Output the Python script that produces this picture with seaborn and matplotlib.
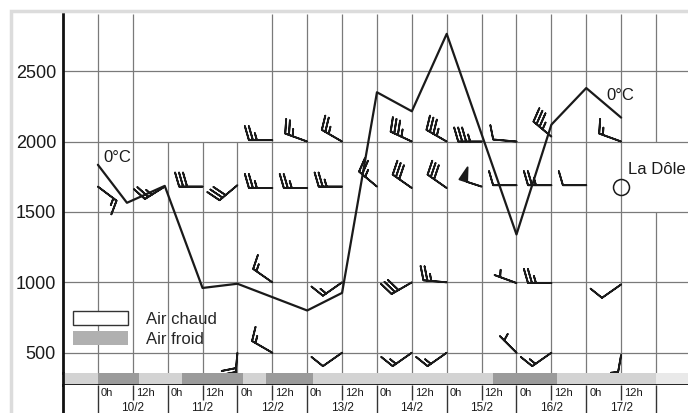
import numpy as np
import matplotlib
matplotlib.use('Agg')
import matplotlib.pyplot as plt
import matplotlib.patches as mpatches
import seaborn as sns

# 0°C isotherm height (m), hours after 10/2 0h
iso_hours = [0, 10, 23, 36, 48, 72, 84, 96, 108, 120, 144, 156, 168, 180]
iso_alt = [1835, 1565, 1685, 960, 990, 800, 925, 2350, 2215, 2765, 1340, 2120, 2380, 2170]

# wind barbs: hour, altitude (m), direction (deg, from), speed (kt)
wind_hours = [60, 72, 84, 108, 120, 132, 144, 156, 180,
              0, 23, 36, 48, 60, 72, 84, 96, 108, 120, 132, 144, 156, 168,
              60, 84, 108, 120, 144, 156, 180,
              48, 60, 84, 108, 120, 144, 156, 180]
wind_alt = [2010, 2000, 2000, 2000, 2000, 2000, 2000, 2035, 2000,
            1680, 1680, 1680, 1690, 1670, 1670, 1680, 1680, 1670, 1670, 1680, 1690, 1690, 1690,
            1000, 1000, 1000, 1000, 995, 995, 985,
            500, 500, 500, 500, 500, 500, 500, 485]
wind_dir = [270, 290, 300, 295, 300, 270, 275, 310, 290,
            127, 238, 270, 230, 270, 270, 270, 310, 305, 305, 288, 270, 270, 270,
            305, 235, 240, 275, 290, 270, 235,
            185, 300, 235, 235, 235, 315, 235, 190]
wind_kt = [25, 25, 25, 35, 35, 35, 10, 35, 15,
           15, 25, 30, 30, 25, 25, 25, 25, 30, 30, 50, 10, 25, 10,
           15, 15, 30, 25, 5, 25, 10,
           30, 15, 10, 15, 15, 5, 15, 5]

# air masses along the time axis (hours)
cold_start = [0, 29, 58, 136]
cold_end = [14, 50, 74, 158]
record_end = 192

days = ['10/2', '11/2', '12/2', '13/2', '14/2', '15/2', '16/2', '17/2']
y_ticks = [500, 1000, 1500, 2000, 2500]

station_hour = 180
station_alt = 1677

XLIM = (-12, 203)
YLIM = (356, 2906)

sns.set_theme(style='white')
plt.rcParams['font.family'] = ['Liberation Sans', 'DejaVu Sans']

W, H = 688, 413
fig = plt.figure(figsize=(W / 100, H / 100), dpi=100)


def box(x0, y0, x1, y1):
    return [x0 / W, 1 - y1 / H, (x1 - x0) / W, (y1 - y0) / H]


ax = fig.add_axes(box(63, 14, 688, 373))
strip = fig.add_axes(box(63, 373, 688, 385))
lab = fig.add_axes(box(63, 385, 688, 413))

# scanned page border
fig.patches.append(mpatches.Rectangle((11 / W, -0.1), 1.2, 1 - 11 / H + 0.1, transform=fig.transFigure,
                                      fill=False, edgecolor='#dcdcdc', lw=2.5, zorder=0))

# grid
gc = '#7a7a7a'
for h in range(0, record_end + 1, 12):
    if h in (24, 36, 48):
        ax.vlines(h, YLIM[0], 2000, color=gc, lw=0.9, zorder=1)
    elif h == record_end:
        ax.vlines(h, YLIM[0], 1500, color=gc, lw=0.9, zorder=1)
        ax.vlines(h, 2000, YLIM[1], color=gc, lw=0.9, zorder=1)
    else:
        ax.vlines(h, YLIM[0], YLIM[1], color=gc, lw=0.9, zorder=1)
ax.hlines(y_ticks, XLIM[0], XLIM[1], color=gc, lw=0.9, zorder=1)

# 0°C isotherm
sns.lineplot(x=iso_hours, y=iso_alt, ax=ax, color='#1a1a1a', lw=1.6, sort=False,
             estimator=None, zorder=3)

# wind barbs
d = np.deg2rad(wind_dir)
spd = np.array(wind_kt, dtype=float)
u = -spd * np.sin(d)
v = -spd * np.cos(d)
ax.barbs(wind_hours, wind_alt, u, v, length=5.8, pivot='tip', color='#1a1a1a',
         linewidth=1.3, sizes=dict(spacing=0.17, height=0.6, width=0.35, emptybarb=0),
         zorder=4)

# labels on the plot
ax.text(2, 1890, '0°C', fontsize=12, ha='left', va='center', color='#1a1a1a')
ax.text(174.8, 2324, '0°C', fontsize=12, ha='left', va='center', color='#1a1a1a')
ax.plot(station_hour, station_alt, 'o', ms=11.5, mfc='none', mec='#1a1a1a', mew=1.1, zorder=4)
ax.text(182.4, 1798, 'La Dôle', fontsize=12, ha='left', va='center', color='#1a1a1a')

handles = [mpatches.Patch(facecolor='white', edgecolor='#333333', lw=1),
           mpatches.Patch(facecolor='#b0b0b0', edgecolor='none')]
ax.legend(handles, ['Air chaud', 'Air froid'], loc='upper left',
          bbox_to_anchor=(73 / W, 1 - 311 / H), bbox_transform=fig.transFigure,
          frameon=False, fontsize=12, handlelength=3.3, handleheight=0.95,
          handletextpad=1.05, labelspacing=0.25, borderpad=0, borderaxespad=0)

ax.set_xlim(XLIM)
ax.set_ylim(YLIM)
ax.set_xticks([])
ax.set_yticks(y_ticks)
ax.set_yticklabels([str(t) for t in y_ticks], fontsize=13, color='#1a1a1a')
ax.tick_params(axis='y', length=0, pad=5)
for s in ['top', 'right', 'bottom']:
    ax.spines[s].set_visible(False)
ax.spines['left'].set_color('#111111')
ax.spines['left'].set_linewidth(2)

# air mass strip
strip.axvspan(XLIM[0], record_end, color='#d3d3d3', lw=0)
strip.axvspan(record_end, XLIM[1], color='#e9e9e9', lw=0)
for a, b in zip(cold_start, cold_end):
    strip.axvspan(a, b, color='#9b9b9b', lw=0)
strip.set_xlim(XLIM)
strip.set_ylim(0, 1)
strip.set_xticks([])
strip.set_yticks([])
for s in ['top', 'right']:
    strip.spines[s].set_visible(False)
strip.spines['left'].set_color('#111111')
strip.spines['left'].set_linewidth(2)
strip.spines['bottom'].set_color('#111111')
strip.spines['bottom'].set_linewidth(2)

# time labels
for i, day in enumerate(days):
    h0 = 24 * i
    lab.vlines(h0, 0, 1, color='#333333', lw=1)
    lab.vlines(h0 + 12, 0.45, 1, color='#333333', lw=1)
    lab.text(h0 + 1, 0.70, '0h', fontsize=8, ha='left', va='center', color='#1a1a1a')
    lab.text(h0 + 13, 0.70, '12h', fontsize=8, ha='left', va='center', color='#1a1a1a')
    lab.text(h0 + 12, 0.08, day, fontsize=8.5, ha='center', va='baseline', color='#1a1a1a')
lab.vlines(record_end, 0, 1, color='#333333', lw=1)
lab.set_xlim(XLIM)
lab.set_ylim(0, 1)
lab.set_xticks([])
lab.set_yticks([])
for s in ['top', 'right', 'bottom']:
    lab.spines[s].set_visible(False)
lab.spines['left'].set_color('#111111')
lab.spines['left'].set_linewidth(2)

fig.savefig('out.png', dpi=100)
